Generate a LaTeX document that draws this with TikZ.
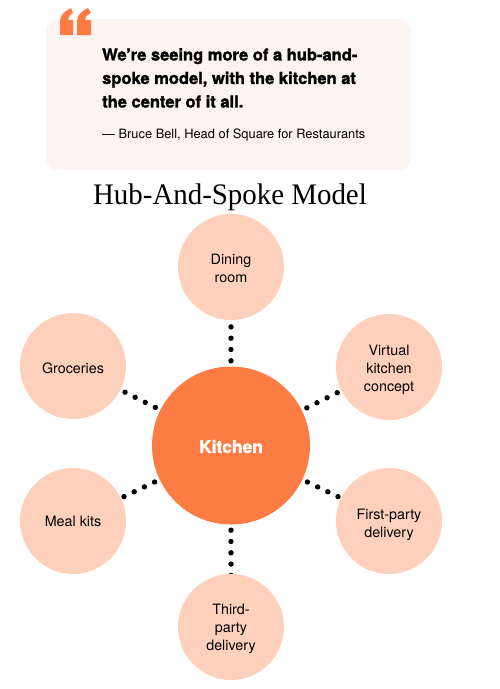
\documentclass[tikz,border=0pt]{standalone}
\usepackage{fontspec}
\setmainfont[BoldFeatures={FakeBold=1.6}]{TeX Gyre Heros}
\newfontfamily\titlefont[FakeStretch=0.97]{Liberation Serif}
\usetikzlibrary{backgrounds}
\definecolor{hub}{HTML}{FC7C44}
\definecolor{spokefill}{HTML}{FFD0BC}
\definecolor{panel}{HTML}{FDF3F1}
\newcommand\lowerby[1]{\rule{0pt}{#1pt}}
\tikzset{
  spoke/.style={circle,fill=spokefill,minimum size=106pt,inner sep=0pt,align=center,font=\fontsize{14.3}{18}\selectfont},
  hubnode/.style={circle,fill=hub,minimum size=158pt,inner sep=0pt,text=white,font=\fontsize{17.4}{20}\selectfont\bfseries},
  dots/.style={line width=5.4pt,line cap=round,dash pattern=on 0pt off 11.3pt,shorten <=5.5pt,draw=black},
  quotetext/.style={anchor=north west,inner sep=0pt,align=left,font=\fontsize{16.5}{23.5}\selectfont\bfseries},
}
\begin{document}
\begin{tikzpicture}[x=1pt,y=-1pt]
\useasboundingbox (0,0) rectangle (500,689);
\fill[panel,rounded corners=12pt] (46,19) rectangle (411,170);
\fill[hub] (60,35) -- (60,21) .. controls (60,15) and (65,11) .. (71,8) -- (73,13) .. controls (70,15) and (68,17) .. (68,20) -- (73,20) -- (73,35) -- cycle;
\fill[hub] (77,35) -- (77,21) .. controls (77,15) and (82,11) .. (88,8) -- (91,13) .. controls (87,15) and (85,17) .. (85,20) -- (91,20) -- (91,35) -- cycle;
\node[quotetext] (quote) at (102,48) {We’re seeing more of a hub-and-\\spoke model, with the kitchen at\\the center of it all.};
\node[anchor=base west,inner sep=0pt,font=\fontsize{12.85}{16}\selectfont] (byline) at (102,138) {— Bruce Bell, Head of Square for Restaurants};
\node[anchor=base,inner sep=0pt,font=\titlefont\fontsize{29.8}{36}\selectfont] (title) at (230,204) {Hub-And-Spoke Model};
\node[hubnode] (kitchen) at (231,445.5) {\lowerby{15}Kitchen};
\node[spoke] (dining) at (231,267) {\lowerby{13}Dining\\room};
\node[spoke] (groceries) at (73,366) {\lowerby{15}Groceries};
\node[spoke] (mealkits) at (73,521) {\lowerby{12}Meal kits};
\node[spoke] (third) at (231,627) {\lowerby{15}Third-\\party\\delivery};
\node[spoke] (virtual) at (389,367) {\lowerby{17}Virtual\\kitchen\\concept};
\node[spoke] (first) at (389,521) {\lowerby{19}First-party\\delivery};
\begin{pgfonlayer}{background}
\draw[dots] (kitchen) -- (dining);
\draw[dots] (kitchen) -- (groceries);
\draw[dots] (kitchen) -- (mealkits);
\draw[dots,shorten >=-3pt] (kitchen) -- (third);
\draw[dots] (kitchen) -- (virtual);
\draw[dots] (kitchen) -- (first);
\end{pgfonlayer}
\end{tikzpicture}
\end{document}
